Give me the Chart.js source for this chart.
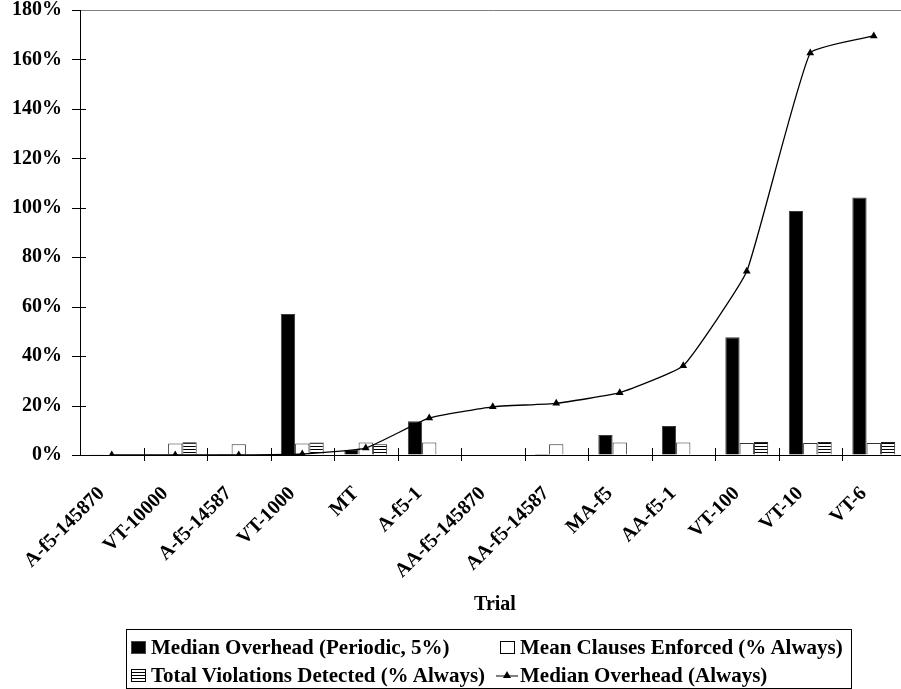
<!DOCTYPE html>
<html>
<head>
<meta charset="utf-8">
<script src="https://cdn.jsdelivr.net/npm/chart.js@4.4.1/dist/chart.umd.min.js"></script>
<style>
  html, body { margin: 0; padding: 0; background: #fff; width: 901px; height: 689px; overflow: hidden; }
  #wrap { position: relative; width: 901px; height: 689px; overflow: hidden; }
  #chart { position: absolute; left: 0; top: 0; }
  .t { font-family: 'Liberation Serif', 'Times New Roman', serif; font-weight: bold; color: #000; }
  #xtitle { position: absolute; left: 395px; width: 200px; top: 591px; text-align: center; font-size: 20px; line-height: 24px; }
  #legend { position: absolute; left: 126px; top: 629px; width: 726px; height: 60px; box-sizing: border-box; border: 1px solid #000; font-size: 21px; }
  .item { position: absolute; display: flex; align-items: center; height: 24px; line-height: 24px; white-space: nowrap; }
  .sw { width: 15px; height: 13px; margin-right: 5px; box-sizing: border-box; border: 1px solid #000; flex: none; }
  .sw.solid { background: #000; border-color: #444; }
  .sw.open { background: #fff; }
  .sw.hatch { background: repeating-linear-gradient(to bottom, #fff 0px, #fff 2px, #000 2px, #000 3px); }
  .ln { margin-right: 2px; flex: none; }
</style>
</head>
<body>
<div id="wrap">
  <canvas id="chart" width="910" height="689"></canvas>
  <div id="xtitle" class="t">Trial</div>
  <div id="legend" class="t">
    <div class="item" style="left:4px; top:5px;"><span class="sw solid"></span>Median Overhead (Periodic, 5%)</div>
    <div class="item" style="left:373px; top:5px;"><span class="sw open"></span>Mean Clauses Enforced (% Always)</div>
    <div class="item" style="left:4px; top:33px;"><span class="sw hatch"></span>Total Violations Detected (% Always)</div>
    <div class="item" style="left:369px; top:33px;"><svg class="ln" width="22" height="10"><line x1="0" y1="6" x2="22" y2="6" stroke="#000" stroke-width="1"/><polygon points="11,1 15,8 7,8" fill="#000"/></svg>Median Overhead (Always)</div>
  </div>
</div>
<script>
// Trials along the category axis
const trials = ['A-f5-145870', 'VT-10000', 'A-f5-14587', 'VT-1000', 'MT', 'A-f5-1',
  'AA-f5-145870', 'AA-f5-14587', 'MA-f5', 'AA-f5-1', 'VT-100', 'VT-10', 'VT-6'];

// Percent values per trial
const periodicOverhead   = [0.3, 0, 0.4, 57.0, 2.0, 13.7, 0, 0.4, 8.1, 11.7, 47.6, 98.7, 104.2];
const clausesEnforced    = [0, 4.7, 4.3, 4.7, 5.1, 5.1, 0, 4.3, 5.1, 5.1, 4.9, 4.9, 4.9];
const violationsDetected = [0, 5.2, 0, 5.1, 4.3, 0, 0, 0, 0, 0, 5.3, 5.3, 5.3];
const alwaysOverhead     = [0, 0, 0, 0.4, 2.8, 15.0, 19.5, 20.9, 25.2, 36.1, 74.3, 162.6, 169.5];

// Value axis ticks
const percentTicks = [0, 20, 40, 60, 80, 100, 120, 140, 160, 180];

const serif = "'Liberation Serif', 'Times New Roman', serif";

// Horizontal-line fill for the violations bars
function hatchPattern() {
  const c = document.createElement('canvas');
  c.width = 8; c.height = 3;
  const g = c.getContext('2d');
  g.fillStyle = '#fff'; g.fillRect(0, 0, 8, 3);
  g.fillStyle = '#000'; g.fillRect(0, 2, 8, 1);
  return g.createPattern(c, 'repeat');
}

// Short tick marks that cross both axes
const crossTicks = {
  id: 'crossTicks',
  afterDraw(chart) {
    const { ctx, chartArea: a, scales: { y } } = chart;
    ctx.save();
    ctx.strokeStyle = '#000';
    ctx.lineWidth = 1;
    ctx.beginPath();
    const n = trials.length;
    for (let i = 1; i <= n; i++) {
      const px = Math.round(a.left + (a.right - a.left) * i / n) + 0.5;
      ctx.moveTo(px, a.bottom - 7);
      ctx.lineTo(px, a.bottom + 6);
    }
    y.ticks.forEach(t => {
      const py = Math.round(y.getPixelForValue(t.value)) + 0.5;
      ctx.moveTo(a.left - 8, py);
      ctx.lineTo(t.value === 180 ? a.left : a.left + 6, py);
    });
    ctx.stroke();
    ctx.restore();
  }
};

new Chart(document.getElementById('chart'), {
  type: 'bar',
  data: {
    labels: trials,
    datasets: [
      {
        label: 'Median Overhead (Periodic, 5%)',
        data: periodicOverhead,
        backgroundColor: '#000',
        borderColor: '#3a3a3a',
        borderWidth: 1,
        order: 1
      },
      {
        label: 'Mean Clauses Enforced (% Always)',
        data: clausesEnforced,
        backgroundColor: '#fff',
        borderColor: '#333',
        borderWidth: 1,
        order: 1
      },
      {
        label: 'Total Violations Detected (% Always)',
        data: violationsDetected,
        backgroundColor: hatchPattern(),
        borderColor: '#222',
        borderWidth: 1,
        order: 1
      },
      {
        type: 'line',
        label: 'Median Overhead (Always)',
        data: alwaysOverhead,
        borderColor: '#000',
        borderWidth: 1.3,
        tension: 0.12,
        pointStyle: 'triangle',
        pointRadius: 4.5,
        pointBackgroundColor: '#000',
        pointBorderColor: '#000',
        pointBorderWidth: 0,
        order: 0
      }
    ]
  },
  options: {
    responsive: false,
    animation: false,
    devicePixelRatio: 1,
    layout: { padding: { left: 0, right: 2, top: 10, bottom: 0 } },
    plugins: { legend: { display: false }, tooltip: { enabled: false } },
    datasets: { bar: { categoryPercentage: 0.675, barPercentage: 1.0 } },
    scales: {
      x: {
        offset: true,
        grid: { display: false, drawTicks: false },
        border: { display: true, color: '#000', width: 1 },
        ticks: {
          autoSkip: false,
          maxRotation: 45,
          minRotation: 45,
          padding: 27,
          labelOffset: -10,
          color: '#000',
          font: { family: serif, weight: 'bold', size: 20 }
        },
        afterFit(scale) {
          scale.height = 234;
          scale.paddingLeft = 0;
          scale.paddingRight = 0;
        }
      },
      y: {
        min: 0,
        max: 180,
        afterBuildTicks(scale) { scale.ticks = percentTicks.map(v => ({ value: v })); },
        grid: {
          drawTicks: false,
          color: ctx => (ctx.tick && ctx.tick.value === 180) ? '#808080' : 'rgba(0,0,0,0)',
          lineWidth: 1
        },
        border: { display: true, color: '#000', width: 1 },
        ticks: {
          padding: 18,
          color: '#000',
          font: { family: serif, weight: 'bold', size: 20, lineHeight: 1 },
          callback: v => v + '%'
        },
        afterFit(scale) {
          scale.width = 80;
          scale.paddingTop = 10;
          scale.paddingBottom = 10;
        }
      }
    }
  },
  plugins: [crossTicks]
});
</script>
</body>
</html>
